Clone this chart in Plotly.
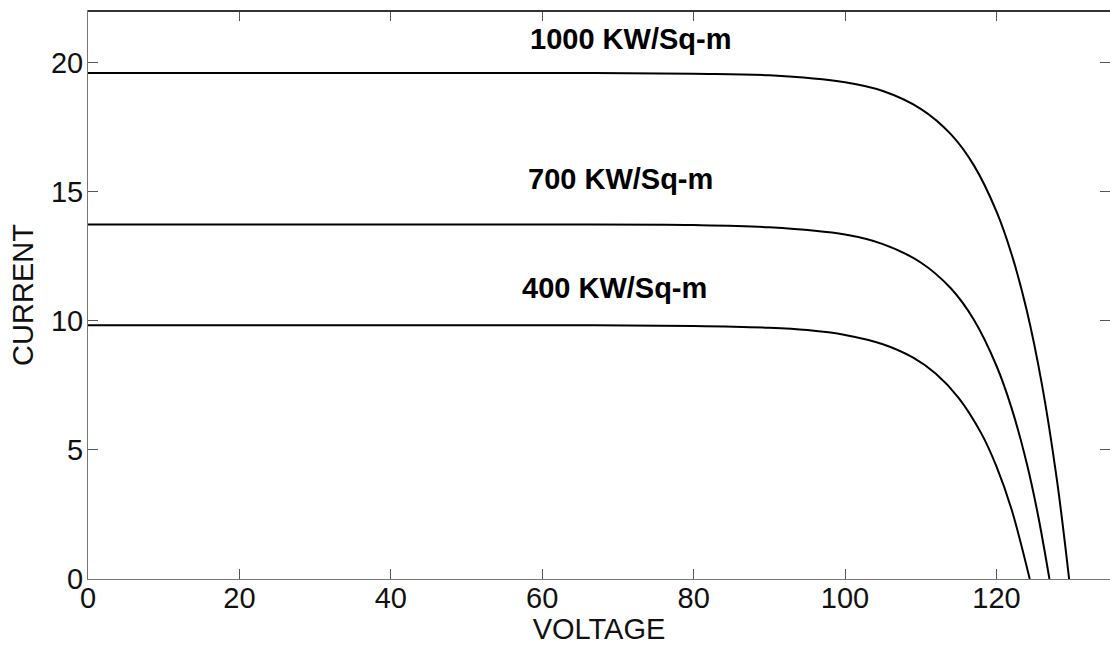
import plotly.graph_objects as go

# Irradiance curves (voltage, current)
v_1000 = [0, 20, 40, 60, 80, 90, 100, 105, 110, 114, 117, 120, 122, 124, 126, 128, 129.6]
i_1000 = [19.6, 19.6, 19.6, 19.6, 19.57, 19.51, 19.24, 18.9, 18.21, 17.22, 16.03, 14.24, 12.58, 10.41, 7.55, 3.81, 0.0]

v_700 = [0, 20, 40, 60, 80, 90, 100, 105, 110, 114, 117, 120, 122, 124, 125.5, 127.0]
i_700 = [13.73, 13.73, 13.73, 13.73, 13.71, 13.62, 13.34, 12.97, 12.26, 11.25, 10.05, 8.26, 6.62, 4.48, 2.46, 0.0]

v_400 = [0, 20, 40, 60, 80, 90, 95, 100, 105, 109, 112, 115, 118, 120, 122, 124.4]
i_400 = [9.83, 9.83, 9.83, 9.83, 9.8, 9.73, 9.64, 9.45, 9.09, 8.57, 7.95, 7.02, 5.64, 4.36, 2.69, 0.0]

labels = ["1000 KW/Sq-m", "700 KW/Sq-m", "400 KW/Sq-m"]
label_v = [71.6, 70.4, 69.6]
label_i = [20.9, 15.5, 11.26]

x_ticks = [0, 20, 40, 60, 80, 100, 120]
y_ticks = [0, 5, 10, 15, 20]

FONT = "Liberation Sans, Arial, sans-serif"

fig = go.Figure()
for v, i in [(v_1000, i_1000), (v_700, i_700), (v_400, i_400)]:
    fig.add_trace(go.Scatter(x=v, y=i, mode="lines",
                             line=dict(color="black", width=2, shape="spline", smoothing=1.0),
                             showlegend=False, hoverinfo="skip"))

for t, x, y in zip(labels, label_v, label_i):
    fig.add_annotation(x=x, y=y, text="<b>" + t + "</b>", showarrow=False,
                       font=dict(family=FONT, size=29, color="black"),
                       xanchor="center", yanchor="middle")

axis_common = dict(showgrid=False, zeroline=False, showline=True, linecolor="#777", linewidth=1,
                   mirror="ticks", ticks="inside", ticklen=10, tickcolor="#555", tickwidth=1,
                   tickfont=dict(family=FONT, size=29, color="#111"))

fig.update_xaxes(range=[0, 135], tickvals=x_ticks, ticktext=[str(t) for t in x_ticks],
                 title=dict(text="VOLTAGE", font=dict(family=FONT, size=29, color="#111"), standoff=6),
                 ticklabelstandoff=-7, **axis_common)
fig.update_yaxes(range=[0, 22], tickvals=y_ticks, ticktext=[str(t) for t in y_ticks],
                 title=dict(text="CURRENT", font=dict(family=FONT, size=29, color="#111"), standoff=8),
                 ticklabelstandoff=-2, **axis_common)

# darker top border as in the reference
fig.add_shape(type="line", xref="paper", yref="paper", x0=0, x1=1, y0=1, y1=1,
              line=dict(color="#333", width=2))

fig.update_layout(width=1110, height=645, margin=dict(l=88, r=0, t=11, b=66),
                  plot_bgcolor="white", paper_bgcolor="white")

fig.write_html("out.html")
